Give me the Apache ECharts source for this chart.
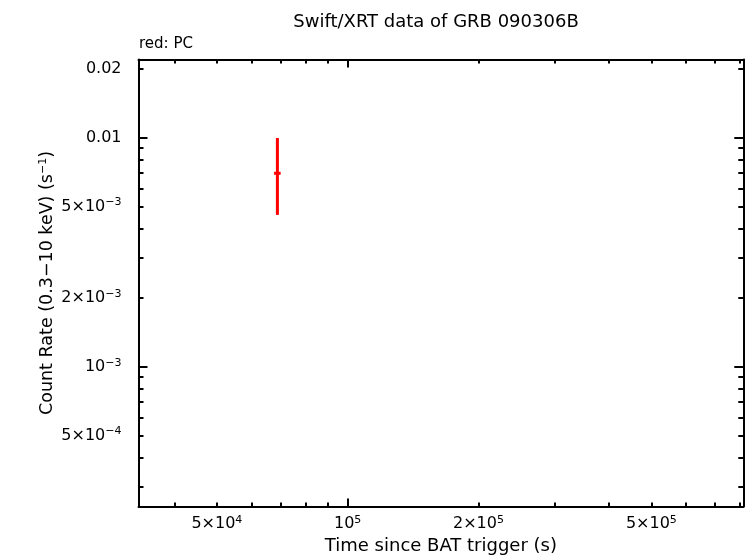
<!DOCTYPE html>
<html>
<head>
<meta charset="utf-8">
<script src="https://cdn.jsdelivr.net/npm/echarts@6/dist/echarts.min.js"></script>
<style>html,body{margin:0;padding:0;background:#fff}#c{width:746px;height:558px}</style>
</head>
<body>
<div id="c"></div>
<script>
// ---- data ----
const titleText = 'Swift/XRT data of GRB 090306B';
const subTitle = 'red: PC';
const xName = 'Time since BAT trigger (s)';
const yNameMain = 'Count Rate (0.3\u221210 keV) (s';
const yNameSup = '\u22121';
const xRange = [3.3e4, 8.14e5];
const yRange = [2.45e-4, 0.02195];
// PC points: time, time low, time high, rate, rate low, rate high
const pcTime = [6.89e4];
const pcTimeLo = [6.77e4];
const pcTimeHi = [7.01e4];
const pcRate = [6.99e-3];
const pcRateLo = [4.60e-3];
const pcRateHi = [9.97e-3];
// ticks
const xLabelValues = [5e4, 1e5, 2e5, 5e5];
const xLabelTexts = ['5\u00d710{sup|4}', '10{sup|5}', '2\u00d710{sup|5}', '5\u00d710{sup|5}'];
const xMajorTicks = [1e5];
const xMinorTicks = [4e4, 5e4, 6e4, 7e4, 8e4, 9e4, 2e5, 3e5, 4e5, 5e5, 6e5, 7e5, 8e5];
const yLabelValues = [0.02, 0.01, 5e-3, 2e-3, 1e-3, 5e-4];
const yLabelTexts = ['0.02', '0.01', '5\u00d710{sup|\u22123}', '2\u00d710{sup|\u22123}', '10{sup|\u22123}', '5\u00d710{sup|\u22124}'];
const yMajorTicks = [1e-2, 1e-3];
const yMinorTicks = [3e-4, 4e-4, 5e-4, 6e-4, 7e-4, 8e-4, 9e-4, 2e-3, 3e-3, 4e-3, 5e-3, 6e-3, 7e-3, 8e-3, 9e-3, 2e-2];

const FONT = '"DejaVu Sans", Verdana, sans-serif';
const rich = {
  sup: { fontSize: 11, fontFamily: FONT, color: '#000', padding: [0, 0, 8, 0] }
};
function fmt(values, texts) {
  return function (v) {
    for (let i = 0; i < values.length; i++) {
      if (Math.abs(values[i] - v) / values[i] < 1e-6) return texts[i];
    }
    return '';
  };
}
const lineStyle = { color: '#000', width: 2 };
function xAxisDef(pos, ticks, len, withLabels, showLine) {
  return {
    type: 'log', logBase: 10, min: xRange[0], max: xRange[1], position: pos,
    axisLine: { show: showLine, lineStyle: lineStyle },
    axisTick: { show: true, inside: true, length: len, customValues: ticks, lineStyle: { color: '#000', width: 2 } },
    axisLabel: withLabels ? {
      show: true, customValues: xLabelValues, formatter: fmt(xLabelValues, xLabelTexts),
      color: '#000', fontSize: 16, fontFamily: FONT, margin: 8, rich: rich
    } : { show: false },
    splitLine: { show: false }, minorTick: { show: false },
    name: withLabels ? xName : '', nameLocation: 'middle', nameGap: 31, nameMoveOverlap: false,
    nameTextStyle: { color: '#000', fontSize: 18, fontFamily: FONT }
  };
}
function yAxisDef(pos, ticks, len, withLabels, showLine) {
  return {
    type: 'log', logBase: 10, min: yRange[0], max: yRange[1], position: pos,
    axisLine: { show: showLine, lineStyle: lineStyle },
    axisTick: { show: true, inside: true, length: len, customValues: ticks, lineStyle: { color: '#000', width: 2 } },
    axisLabel: withLabels ? {
      show: true, customValues: yLabelValues, formatter: fmt(yLabelValues, yLabelTexts),
      color: '#000', fontSize: 16, fontFamily: FONT, margin: 17, rich: rich
    } : { show: false },
    splitLine: { show: false }, minorTick: { show: false },
    name: withLabels ? (yNameMain + '{sup|' + yNameSup + '})') : '', nameLocation: 'middle', nameGap: 82,
    nameMoveOverlap: false,
    nameRotate: 90,
    nameTextStyle: { color: '#000', fontSize: 17.5, fontFamily: FONT, rich: { sup: { fontSize: 11, fontFamily: FONT, color: '#000', padding: [0, 0, 8, 0] } } }
  };
}

const chart = echarts.init(document.getElementById('c'), null, { renderer: 'canvas' });
const pcData = pcTime.map((t, i) => [t, pcRate[i], pcTimeLo[i], pcTimeHi[i], pcRateLo[i], pcRateHi[i]]);
chart.setOption({
  animation: false,
  backgroundColor: '#fff',
  title: [
    { text: titleText, left: 431, top: 8, textAlign: 'center', textStyle: { color: '#000', fontSize: 18, fontWeight: 'normal', fontFamily: FONT } },
    { text: subTitle, left: 134, top: 32, textStyle: { color: '#000', fontSize: 15, fontWeight: 'normal', fontFamily: FONT } }
  ],
  grid: { left: 138.5, right: 2.7, top: 59.5, bottom: 51.5, containLabel: false, outerBoundsMode: 'none' },
  xAxis: [
    xAxisDef('bottom', xMinorTicks, 4, true, true),
    xAxisDef('bottom', xMajorTicks, 8, false, false),
    xAxisDef('top', xMinorTicks, 4, false, true),
    xAxisDef('top', xMajorTicks, 8, false, false)
  ],
  yAxis: [
    yAxisDef('left', yMinorTicks, 5, true, true),
    yAxisDef('left', yMajorTicks, 9, false, false),
    yAxisDef('right', yMinorTicks, 5, false, true),
    yAxisDef('right', yMajorTicks, 9, false, false)
  ],
  series: [{
    type: 'custom', xAxisIndex: 0, yAxisIndex: 0,
    data: pcData,
    renderItem: function (params, api) {
      const c = api.coord([api.value(0), api.value(1)]);
      const xl = api.coord([api.value(2), api.value(1)]);
      const xh = api.coord([api.value(3), api.value(1)]);
      const yl = api.coord([api.value(0), api.value(4)]);
      const yh = api.coord([api.value(0), api.value(5)]);
      const st = { stroke: '#ff0000', lineWidth: 3 };
      return {
        type: 'group', children: [
          { type: 'line', shape: { x1: c[0], y1: yl[1], x2: c[0], y2: yh[1] }, style: st },
          { type: 'line', shape: { x1: xl[0], y1: c[1], x2: xh[0], y2: c[1] }, style: st }
        ]
      };
    }
  }]
});
</script>
</body>
</html>
